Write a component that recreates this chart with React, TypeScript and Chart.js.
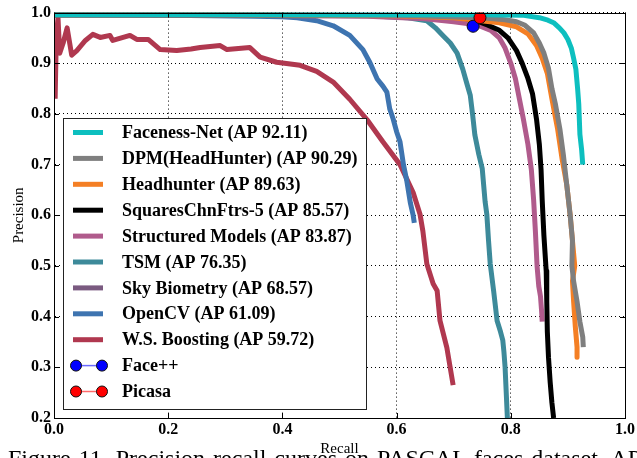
import React, { useEffect, useRef } from "react";
import { Chart, registerables } from "chart.js";

Chart.register(...registerables);

// ---------- data ----------
const xTickValues = [0, 0.2, 0.4, 0.6, 0.8, 1.0];
const yTickValues = [0.2, 0.3, 0.4, 0.5, 0.6, 0.7, 0.8, 0.9, 1.0];

const seriesNames = [
  "Faceness-Net (AP 92.11)",
  "DPM(HeadHunter) (AP 90.29)",
  "Headhunter (AP 89.63)",
  "SquaresChnFtrs-5 (AP 85.57)",
  "Structured Models (AP 83.87)",
  "TSM (AP 76.35)",
  "Sky Biometry (AP 68.57)",
  "OpenCV (AP 61.09)",
  "W.S. Boosting (AP 59.72)",
];
const seriesColors = [
  "#0dbfbf",
  "#7f7f7f",
  "#f47f24",
  "#000000",
  "#b05b8c",
  "#3d8a9a",
  "#7a5a80",
  "#3e74b0",
  "#b0384f",
];

const facenessRecall = [0, 0.2, 0.4, 0.6, 0.75, 0.82, 0.85, 0.865, 0.875, 0.885, 0.893, 0.9, 0.906, 0.91, 0.914, 0.917, 0.919, 0.921, 0.924, 0.926];
const facenessPrecision = [0.996, 0.996, 0.996, 0.996, 0.996, 0.995, 0.99, 0.985, 0.98, 0.97, 0.96, 0.947, 0.93, 0.91, 0.888, 0.85, 0.82, 0.76, 0.73, 0.7];

const dpmRecall = [0, 0.3, 0.6, 0.75, 0.79, 0.81, 0.825, 0.84, 0.85, 0.858, 0.866, 0.872, 0.878, 0.886, 0.892, 0.898, 0.904, 0.908, 0.907, 0.91, 0.916, 0.921, 0.926, 0.927];
const dpmPrecision = [0.996, 0.996, 0.995, 0.99, 0.986, 0.982, 0.975, 0.96, 0.94, 0.92, 0.89, 0.85, 0.82, 0.77, 0.72, 0.66, 0.6, 0.55, 0.5, 0.47, 0.43, 0.39, 0.36, 0.34];

const headhunterRecall = [0, 0.3, 0.6, 0.7, 0.74, 0.78, 0.81, 0.83, 0.845, 0.855, 0.864, 0.872, 0.882, 0.89, 0.898, 0.904, 0.908, 0.912, 0.908, 0.91, 0.913, 0.916, 0.916];
const headhunterPrecision = [0.996, 0.996, 0.994, 0.99, 0.985, 0.98, 0.972, 0.958, 0.935, 0.91, 0.88, 0.83, 0.77, 0.71, 0.66, 0.6, 0.55, 0.5, 0.47, 0.43, 0.38, 0.34, 0.32];

const squaresRecall = [0, 0.3, 0.6, 0.7, 0.735, 0.76, 0.78, 0.795, 0.81, 0.82, 0.83, 0.838, 0.845, 0.85, 0.853, 0.855, 0.858, 0.862, 0.863, 0.864, 0.866, 0.869, 0.872, 0.875];
const squaresPrecision = [0.996, 0.996, 0.995, 0.992, 0.986, 0.975, 0.965, 0.95, 0.925, 0.9, 0.87, 0.84, 0.79, 0.74, 0.69, 0.63, 0.56, 0.49, 0.43, 0.37, 0.32, 0.27, 0.23, 0.2];

const structuredRecall = [0, 0.3, 0.55, 0.65, 0.7, 0.74, 0.765, 0.78, 0.79, 0.8, 0.808, 0.815, 0.822, 0.83, 0.836, 0.84, 0.843, 0.846, 0.849, 0.852, 0.854, 0.855];
const structuredPrecision = [0.996, 0.995, 0.993, 0.988, 0.982, 0.976, 0.965, 0.95, 0.93, 0.9, 0.87, 0.83, 0.79, 0.74, 0.69, 0.63, 0.57, 0.5, 0.46, 0.44, 0.41, 0.39];

const tsmRecall = [0, 0.3, 0.55, 0.62, 0.653, 0.668, 0.681, 0.694, 0.706, 0.716, 0.723, 0.729, 0.733, 0.737, 0.744, 0.75, 0.755, 0.758, 0.761, 0.764, 0.77, 0.776, 0.782, 0.786, 0.788, 0.79, 0.792, 0.794];
const tsmPrecision = [0.996, 0.996, 0.994, 0.99, 0.984, 0.97, 0.955, 0.94, 0.92, 0.888, 0.86, 0.837, 0.8, 0.759, 0.72, 0.692, 0.627, 0.602, 0.55, 0.504, 0.45, 0.392, 0.37, 0.353, 0.33, 0.3, 0.25, 0.2];

const skyRecall = [0, 0.3, 0.5, 0.68];
const skyPrecision = [0.996, 0.996, 0.995, 0.994];

const opencvRecall = [0, 0.2, 0.35, 0.4, 0.426, 0.46, 0.489, 0.518, 0.541, 0.553, 0.566, 0.576, 0.583, 0.588, 0.594, 0.6, 0.606, 0.612, 0.618, 0.624, 0.629, 0.631];
const opencvPrecision = [0.996, 0.995, 0.993, 0.992, 0.99, 0.984, 0.974, 0.955, 0.927, 0.902, 0.869, 0.855, 0.843, 0.81, 0.79, 0.765, 0.745, 0.7, 0.667, 0.625, 0.6, 0.585];

const boostingRecall = [0.002, 0.004, 0.007, 0.01, 0.016, 0.023, 0.031, 0.04, 0.055, 0.068, 0.081, 0.098, 0.103, 0.118, 0.133, 0.145, 0.165, 0.186, 0.215, 0.24, 0.256, 0.291, 0.303, 0.343, 0.361, 0.39, 0.431, 0.46, 0.489, 0.518, 0.548, 0.576, 0.606, 0.629, 0.641, 0.646, 0.653, 0.664, 0.671, 0.676, 0.688, 0.699];
const boostingPrecision = [0.83, 0.95, 0.99, 0.92, 0.94, 0.97, 0.916, 0.925, 0.945, 0.957, 0.951, 0.955, 0.945, 0.95, 0.955, 0.947, 0.947, 0.927, 0.925, 0.928, 0.931, 0.935, 0.927, 0.931, 0.912, 0.902, 0.896, 0.884, 0.863, 0.829, 0.789, 0.745, 0.7, 0.645, 0.602, 0.569, 0.504, 0.465, 0.451, 0.392, 0.339, 0.265];

const recallSeries = [facenessRecall, dpmRecall, headhunterRecall, squaresRecall, structuredRecall, tsmRecall, skyRecall, opencvRecall, boostingRecall];
const precisionSeries = [facenessPrecision, dpmPrecision, headhunterPrecision, squaresPrecision, structuredPrecision, tsmPrecision, skyPrecision, opencvPrecision, boostingPrecision];

const pointNames = ["Face++", "Picasa"];
const pointColors = ["#0000ff", "#ff0000"];
const pointLineColors = ["#6a6aff", "#ff6a6a"];
const pointRecall = [0.734, 0.746];
const pointPrecision = [0.973, 0.99];

const xTitle = "Recall";
const yTitle = "Precision";
const captionText = "Figure 11. Precision-recall curves on PASCAL faces dataset. AP";

const SERIF = '"Liberation Serif", "Times New Roman", serif';

const frameAndLegend = {
  id: "frameAndLegend",
  afterDatasetsDraw(chart: any) {
    const { ctx, chartArea: a, scales } = chart;
    ctx.save();
    ctx.strokeStyle = "#000";
    ctx.lineWidth = 1;
    ctx.setLineDash([]);
    ctx.beginPath();
    for (const v of xTickValues) {
      const px = Math.round(scales.x.getPixelForValue(v)) + 0.5;
      ctx.moveTo(px, a.bottom);
      ctx.lineTo(px, a.bottom - 5);
      ctx.moveTo(px, a.top);
      ctx.lineTo(px, a.top + 5);
    }
    for (const v of yTickValues) {
      const py = Math.round(scales.y.getPixelForValue(v)) + 0.5;
      ctx.moveTo(a.left, py);
      ctx.lineTo(a.left + 5, py);
      ctx.moveTo(a.right, py);
      ctx.lineTo(a.right - 5, py);
    }
    ctx.stroke();
    ctx.strokeRect(Math.round(a.left) + 0.5, Math.round(a.top) + 0.5, Math.round(a.right - a.left), Math.round(a.bottom - a.top));

    // legend box
    const bx = 63, by = 118, bw = 303, bh = 291;
    ctx.fillStyle = "#fff";
    ctx.fillRect(bx, by, bw, bh);
    ctx.strokeStyle = "#222";
    ctx.strokeRect(bx + 0.5, by + 0.5, bw, bh);
    ctx.font = `bold 18px ${SERIF}`;
    ctx.textBaseline = "middle";
    ctx.textAlign = "left";
    const rowY = (i: number) => 132.5 + i * 25.9;
    seriesNames.forEach((name, i) => {
      const y = rowY(i);
      ctx.strokeStyle = seriesColors[i];
      ctx.lineWidth = 5;
      ctx.beginPath();
      ctx.moveTo(73, y);
      ctx.lineTo(103, y);
      ctx.stroke();
      ctx.fillStyle = "#000";
      ctx.fillText(name, 122, y + 1);
    });
    pointNames.forEach((name, j) => {
      const y = rowY(seriesNames.length + j);
      ctx.strokeStyle = pointLineColors[j];
      ctx.lineWidth = 1.5;
      ctx.beginPath();
      ctx.moveTo(76, y);
      ctx.lineTo(102, y);
      ctx.stroke();
      for (const cx of [76, 102]) {
        ctx.beginPath();
        ctx.arc(cx, y, 5.5, 0, Math.PI * 2);
        ctx.fillStyle = pointColors[j];
        ctx.fill();
        ctx.lineWidth = 1;
        ctx.strokeStyle = "#111";
        ctx.stroke();
      }
      ctx.fillStyle = "#000";
      ctx.fillText(name, 122, y + 1);
    });
    ctx.restore();
  },
};

export default function App() {
  const ref = useRef<HTMLCanvasElement | null>(null);

  useEffect(() => {
    const canvas = ref.current;
    if (!canvas) return;
    const datasets: any[] = seriesNames.map((name, i) => ({
      label: name,
      data: recallSeries[i].map((x, k) => ({ x, y: precisionSeries[i][k] })),
      borderColor: seriesColors[i],
      backgroundColor: seriesColors[i],
      borderWidth: 5,
      pointRadius: 0,
      showLine: true,
      fill: false,
      tension: 0,
      borderJoinStyle: "round",
      borderCapStyle: "butt",
      order: i + 1,
    }));
    pointNames.forEach((name, j) => {
      datasets.push({
        label: name,
        data: [{ x: pointRecall[j], y: pointPrecision[j] }],
        showLine: false,
        pointRadius: 6,
        pointBackgroundColor: pointColors[j],
        pointBorderColor: "#111",
        pointBorderWidth: 1,
        order: -1 - j,
      });
    });

    const chart = new Chart(canvas, {
      type: "scatter",
      data: { datasets },
      options: {
        animation: false,
        responsive: false,
        devicePixelRatio: 1,
        layout: { padding: { top: 10, right: 12, left: 0, bottom: 0 } },
        plugins: { legend: { display: false }, tooltip: { enabled: false } },
        scales: {
          x: {
            type: "linear",
            min: 0,
            max: 1,
            afterBuildTicks: (s: any) => {
              s.ticks = xTickValues.map((v) => ({ value: v }));
            },
            afterFit: (s: any) => {
              s.height = 40;
            },
            ticks: {
              color: "#000",
              font: { family: SERIF, size: 16, weight: "bold" },
              padding: 2,
              maxRotation: 0,
              autoSkip: false,
              callback: (v: any) => Number(v).toFixed(1),
            },
            grid: { color: "#000", lineWidth: 1, drawTicks: false },
            border: { display: true, color: "#000", width: 1, dash: [1, 3] },
            title: {
              display: true,
              text: xTitle,
              color: "#000",
              font: { family: SERIF, size: 15, weight: "normal" },
              padding: { top: 0, bottom: 0 },
            },
          },
          y: {
            type: "linear",
            min: 0.2,
            max: 1.0,
            afterBuildTicks: (s: any) => {
              s.ticks = yTickValues.map((v) => ({ value: v }));
            },
            afterFit: (s: any) => {
              s.width = 54;
            },
            ticks: {
              color: "#000",
              font: { family: SERIF, size: 16, weight: "bold" },
              padding: 3,
              autoSkip: false,
              callback: (v: any) => Number(v).toFixed(1),
            },
            grid: { color: "#000", lineWidth: 1, drawTicks: false },
            border: { display: true, color: "#000", width: 1, dash: [1, 3] },
            title: {
              display: true,
              text: yTitle,
              color: "#000",
              font: { family: SERIF, size: 15, weight: "normal" },
              padding: { top: 10, bottom: 0 },
            },
          },
        },
      },
      plugins: [frameAndLegend],
    });
    return () => chart.destroy();
  }, []);

  return (
    <div style={{ position: "fixed", left: 0, top: 0, width: 637, height: 458, overflow: "hidden", background: "#fff" }}>
      <canvas ref={ref} width={637} height={458} style={{ width: 637, height: 458, display: "block" }} />
      <div
        style={{
          position: "absolute",
          left: 8,
          top: 446,
          fontFamily: SERIF,
          fontSize: 24,
          lineHeight: "24px",
          wordSpacing: "2px",
          whiteSpace: "nowrap",
          color: "#000",
        }}
      >
        {captionText}
      </div>
    </div>
  );
}
